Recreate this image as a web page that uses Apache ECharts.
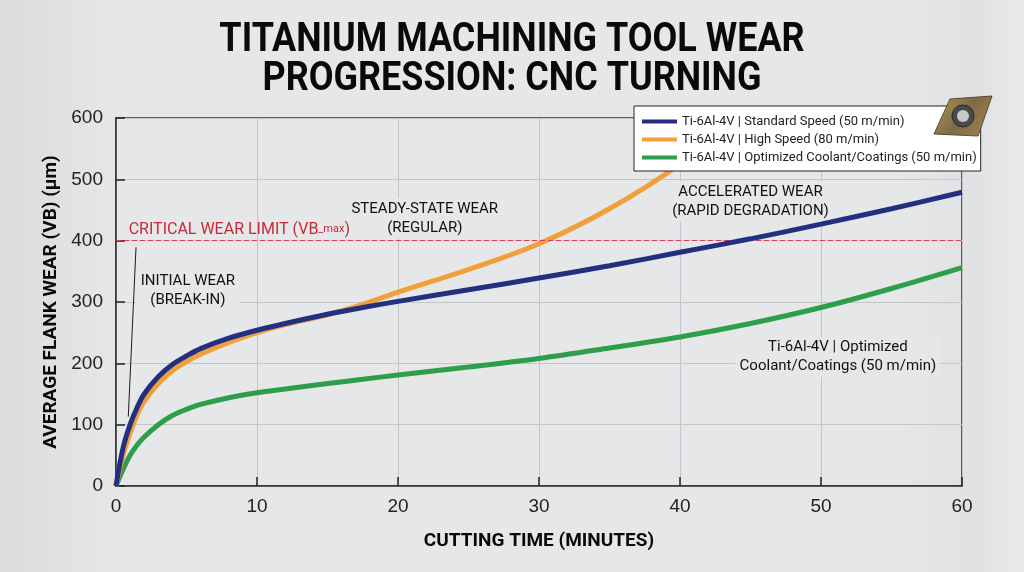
<!DOCTYPE html>
<html>
<head>
<meta charset="utf-8" />
<title>Titanium Machining Tool Wear</title>
<script src="https://cdn.jsdelivr.net/npm/echarts@6/dist/echarts.min.js"></script>
<style>
  html, body { margin: 0; padding: 0; }
  #main { width: 1024px; height: 572px; }
</style>
</head>
<body>
<div id="main"></div>
<script type="text/javascript">
    // cutting time (minutes) and flank wear (um)
    var tStd = [0, 0.5, 1, 1.5, 2, 3, 4, 5, 6, 8, 10, 12, 15, 17.5, 20, 25, 30, 35, 40, 45, 50, 55, 60];
    var wearStd = [0, 62, 100, 128, 150, 178, 198, 212, 224, 241, 254, 265, 280, 291, 301, 320, 339, 359, 381, 403, 427, 452, 479];

    var tHigh = [0, 0.5, 1, 1.5, 2, 3, 4, 5, 6, 8, 10, 12, 15, 17.5, 20, 25, 30, 35, 40, 43, 45];
    var wearHigh = [0, 50, 86, 116, 138, 167, 188, 203, 215, 234, 250, 263, 279, 296, 316, 353, 395, 452, 525, 585, 630];

    var tCool = [0, 0.5, 1, 1.5, 2, 3, 4, 5, 6, 8, 10, 12, 15, 17.5, 20, 25, 30, 35, 40, 45, 50, 55, 60];
    var wearCool = [0, 27, 50, 67, 80, 100, 115, 125, 133, 144, 152, 158, 167, 174, 181, 194, 208, 225, 243, 265, 291, 322, 356];

    var seriesNames = [
        'Ti-6Al-4V | Standard Speed (50 m/min)',
        'Ti-6Al-4V | High Speed (80 m/min)',
        'Ti-6Al-4V | Optimized Coolant/Coatings (50 m/min)'
    ];
    var xTicks = { min: 0, max: 60, step: 10 };
    var yTicks = { min: 0, max: 600, step: 100 };
    var wearLimit = 400;

    // text notes: [time, wear, text]
    var notes = [
        [5.1, 319, 'INITIAL WEAR\n(BREAK-IN)'],
        [21.9, 436, 'STEADY-STATE WEAR\n(REGULAR)'],
        [45.0, 464, 'ACCELERATED WEAR\n(RAPID DEGRADATION)'],
        [51.2, 210, 'Ti-6Al-4V | Optimized\nCoolant/Coatings (50 m/min)']
    ];
    var limitNote = [0.9, 418];
    var leader = [[1.42, 389], [0.87, 113]];

    function pairs(t, v) {
        var res = [];
        for (var i = 0; i < t.length; i++) res.push([t[i], v[i]]);
        return res;
    }

    var sans = "Roboto, 'Liberation Sans', sans-serif";
    var bgMid = '#e6e7e8';
    var myChart = echarts.init(document.getElementById('main'));

    var option = {
        backgroundColor: {
            type: 'linear', x: 0, y: 0, x2: 1, y2: 0,
            colorStops: [
                { offset: 0, color: '#d9dbdd' },
                { offset: 0.12, color: bgMid },
                { offset: 0.88, color: bgMid },
                { offset: 0.95, color: '#dfe1e3' },
                { offset: 1, color: '#e9eaeb' }
            ]
        },
        animation: false,
        legend: {
            orient: 'vertical',
            left: 634,
            top: 106,
            z: 10,
            backgroundColor: '#ffffff',
            borderColor: '#222',
            borderWidth: 1,
            borderRadius: 0,
            padding: [9, 4, 7, 8],
            itemGap: 5,
            itemWidth: 35,
            itemHeight: 14,
            icon: 'path://M0,5 L35,5 L35,9 L0,9 Z',
            textStyle: { fontFamily: sans, fontSize: 13, color: '#222' },
            data: seriesNames
        },
        grid: {
            left: 116, right: 62, top: 118, bottom: 86,
            show: true,
            borderColor: '#333',
            borderWidth: 1.5
        },
        xAxis: {
            type: 'value',
            min: xTicks.min, max: xTicks.max, interval: xTicks.step,
            name: 'CUTTING TIME (MINUTES)',
            nameLocation: 'middle',
            nameGap: 46,
            nameTextStyle: { fontFamily: sans, fontWeight: 'bold', fontSize: 19, color: '#0a0a0a' },
            axisLine: { lineStyle: { color: '#333', width: 1.5 } },
            axisTick: { inside: true, length: 9, lineStyle: { color: '#222', width: 1.5 } },
            axisLabel: { fontFamily: 'Liberation Sans', fontSize: 19, color: '#222', margin: 11 },
            splitLine: { lineStyle: { color: '#c3c5c8', width: 1 } }
        },
        yAxis: {
            type: 'value',
            min: yTicks.min, max: yTicks.max, interval: yTicks.step,
            name: 'AVERAGE FLANK WEAR (VB) (\u00b5m)',
            nameLocation: 'middle',
            nameGap: 48,
            nameTextStyle: { fontFamily: sans, fontWeight: 'bold', fontSize: 19, color: '#0a0a0a' },
            axisLine: { show: true, lineStyle: { color: '#333', width: 1.5 } },
            axisTick: { show: true, inside: true, length: 9, lineStyle: { color: '#222', width: 1.5 } },
            axisLabel: { fontFamily: 'Liberation Sans', fontSize: 19, color: '#222', margin: 13 },
            splitLine: { lineStyle: { color: '#c3c5c8', width: 1 } }
        },
        series: [
            {
                name: seriesNames[2],
                type: 'line',
                smooth: 0.35,
                symbol: 'none',
                z: 3,
                color: '#2e9e4a',
                lineStyle: { width: 5, color: '#2e9e4a' },
                data: pairs(tCool, wearCool),
                markLine: {
                    silent: true,
                    symbol: 'none',
                    label: { show: false },
                    lineStyle: { color: '#1a1a1a', width: 1, type: 'solid' },
                    data: [[{ coord: leader[0] }, { coord: leader[1] }]]
                },
                markPoint: {
                    silent: true,
                    symbol: 'rect',
                    symbolSize: 0,
                    label: {
                        show: true,
                        position: 'inside',
                        fontFamily: sans,
                        fontSize: 15,
                        lineHeight: 19,
                        color: '#111',
                        align: 'center',
                        backgroundColor: bgMid,
                        padding: [1, 4],
                        formatter: function (p) { return p.data.note; }
                    },
                    data: notes.map(function (n) {
                        return { coord: [n[0], n[1]], note: n[2] };
                    }).concat([{
                        coord: limitNote,
                        note: '',
                        label: {
                            align: 'left',
                            backgroundColor: 'transparent',
                            padding: 0,
                            formatter: '{a|CRITICAL WEAR LIMIT (VB}{s|_max}{a|)}',
                            rich: {
                                a: { fontFamily: sans, fontSize: 16, color: '#c8283a', height: 20, verticalAlign: 'middle' },
                                s: { fontFamily: sans, fontSize: 11, color: '#c8283a', height: 20, verticalAlign: 'bottom' }
                            }
                        }
                    }])
                }
            },
            {
                name: seriesNames[1],
                type: 'line',
                smooth: 0.35,
                symbol: 'none',
                z: 4,
                color: '#f0a03a',
                lineStyle: { width: 5, color: '#f0a03a' },
                data: pairs(tHigh, wearHigh)
            },
            {
                name: seriesNames[0],
                type: 'line',
                smooth: 0.35,
                symbol: 'none',
                z: 5,
                color: '#22307f',
                lineStyle: { width: 5, color: '#22307f' },
                data: pairs(tStd, wearStd),
                markLine: {
                    silent: true,
                    symbol: 'none',
                    lineStyle: { color: '#d2404f', width: 1.2, type: [5, 3] },
                    label: { show: false },
                    data: [{ yAxis: wearLimit }]
                }
            }
        ],
        graphic: [
            {
                type: 'text',
                x: 512, y: 21,
                scaleX: 0.877,
                z: 100,
                style: {
                    text: 'TITANIUM MACHINING TOOL WEAR\nPROGRESSION: CNC TURNING',
                    fontFamily: sans,
                    fontWeight: 'bold',
                    fontSize: 41,
                    lineHeight: 39,
                    align: 'center',
                    verticalAlign: 'top',
                    fill: '#0a0a0a'
                }
            },
            {
                type: 'polygon',
                z: 100,
                shape: { points: [[950, 99], [992, 96], [978, 136], [934, 134]] },
                style: {
                    fill: {
                        type: 'linear', x: 0, y: 0, x2: 1, y2: 1,
                        colorStops: [
                            { offset: 0, color: '#b89a52' },
                            { offset: 0.5, color: '#7d6a48' },
                            { offset: 1, color: '#a8894a' }
                        ]
                    },
                    stroke: '#5a4a30', lineWidth: 1
                }
            },
            {
                type: 'circle',
                z: 101,
                shape: { cx: 963, cy: 116, r: 11 },
                style: { fill: '#4a4a4a', stroke: '#2a2a2a', lineWidth: 1 }
            },
            {
                type: 'circle',
                z: 102,
                shape: { cx: 963, cy: 116, r: 6 },
                style: { fill: '#c9c9c9' }
            }
        ]
    };
    myChart.setOption(option);
</script>
</body>
</html>
